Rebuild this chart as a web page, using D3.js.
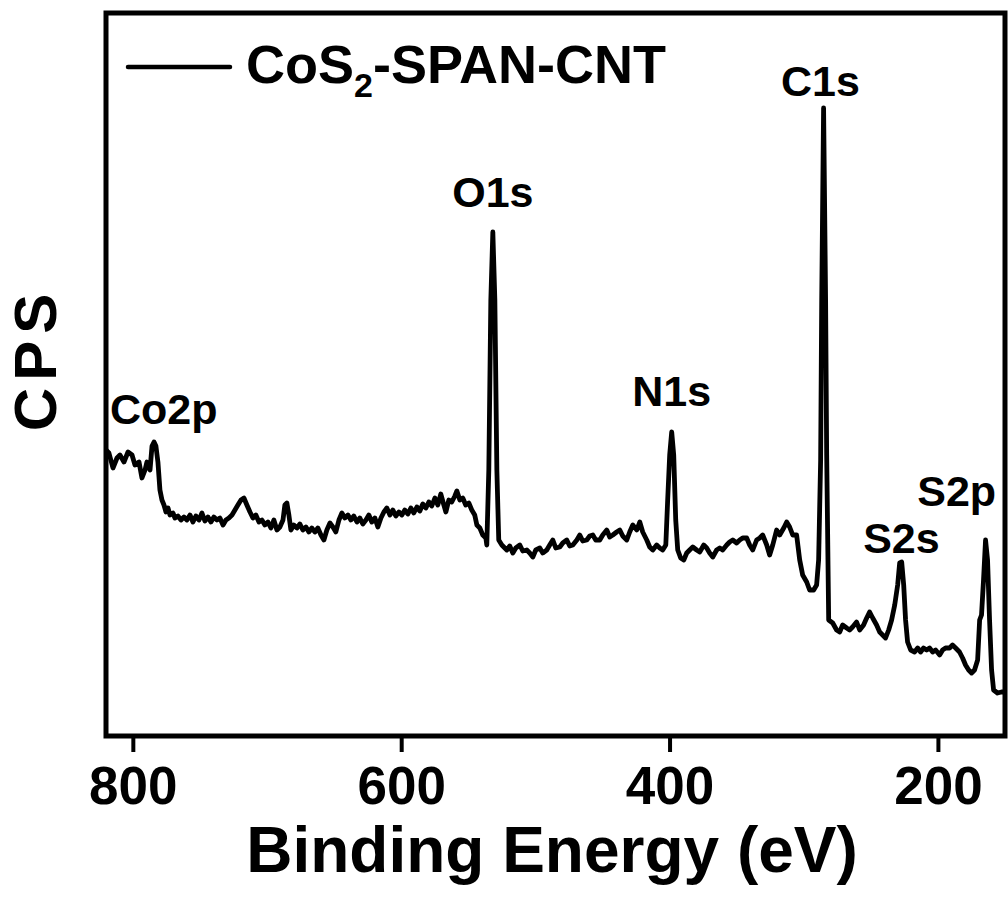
<!DOCTYPE html>
<html><head><meta charset="utf-8">
<script src="https://cdn.jsdelivr.net/npm/d3@7/dist/d3.min.js"></script>
<style>
html,body{margin:0;padding:0;background:#fff;}
text{font-family:"Liberation Sans",Arial,sans-serif;font-weight:bold;fill:#000;}
</style></head>
<body><svg id="c" width="1008" height="897"></svg>
<script>
// Binding energy (eV) and intensity (arbitrary CPS units)
const bindingEnergy = [820,817.8,814.8,811.8,809.6,806.6,803.6,800.6,798.4,795.4,793.2,790.9,789.5,787.2,785.7,784.2,782.8,781.3,779.8,778.3,776.8,775.3,773.8,772.3,770.1,768.6,766.4,764.1,761.9,759.7,757.4,755.2,753.0,750.7,748.5,746.3,744.0,741.8,739.6,737.3,735.1,732.8,730.6,728.4,726.1,723.9,721.7,719.4,717.2,715.0,712.7,710.5,708.3,706.0,703.8,701.6,699.3,697.1,694.9,692.6,690.4,688.1,686.7,685.2,683.7,682.2,680.0,677.7,675.5,673.3,671.0,668.8,666.6,664.3,662.1,659.8,657.6,655.4,653.1,650.9,648.7,646.4,644.2,642.0,639.7,637.5,635.3,633.0,630.8,628.6,626.3,624.1,621.9,619.6,617.4,615.1,612.9,610.7,608.4,606.2,604.0,601.7,599.5,597.3,595.0,592.8,590.6,588.3,586.1,583.9,581.6,579.4,577.2,574.9,572.7,570.5,568.2,566.7,564.5,562.3,560.0,558.5,556.3,554.1,551.9,549.6,547.4,545.2,543.6,541.4,539.2,536.9,536.2,534.7,533.2,531.7,530.2,528.7,527.3,525.0,522.8,521.3,519.1,516.8,514.6,511.6,509.4,506.4,504.2,501.9,499.7,496.7,494.5,491.5,489.3,487.0,484.8,481.8,479.6,476.6,474.4,472.1,469.1,466.9,464.7,461.7,459.5,457.2,455.0,452.0,449.8,446.8,444.6,442.3,439.4,437.1,434.9,431.9,429.7,427.4,424.4,422.2,420.0,417.0,414.8,412.5,409.6,407.3,405.1,402.8,401.4,399.9,398.4,396.9,395.4,393.9,391.7,389.4,387.2,385.0,382.7,379.8,377.5,374.5,372.3,370.1,367.8,364.9,362.6,360.4,357.4,355.2,352.9,350.0,347.7,345.5,342.5,340.3,338.0,335.1,332.8,330.6,327.6,325.4,323.1,320.2,317.9,314.9,312.7,310.5,308.2,305.3,303.0,300.8,297.8,295.6,292.6,290.4,288.9,287.4,286.6,285.2,283.7,282.9,281.4,278.4,275.5,273.2,271.0,268.0,265.8,263.6,260.6,258.3,255.4,253.1,250.9,248.6,245.7,243.4,241.2,239.0,236.7,234.5,232.2,230.0,228.5,227.0,225.5,224.1,222.6,220.3,217.4,215.1,212.9,210.7,208.4,206.2,203.9,201.7,198.7,196.5,194.3,191.3,189.1,186.8,183.9,181.6,179.4,177.1,174.9,172.7,170.4,168.9,167.5,166.0,164.5,163.0,161.5,160.0,158.5,155.6,152.6,149.6];
const cps = [286,283,268,278,281,274,284,281,271,274,258,266,274,266,290,294,290,274,246,236,231,224,228,221,223,218,220,216,219,216,221,214,220,216,223,215,219,214,219,216,218,211,216,218,221,226,231,236,238,231,224,218,221,214,216,211,214,208,216,206,209,216,231,233,221,206,211,208,212,206,209,204,208,204,208,201,196,206,213,209,204,216,223,218,221,216,220,214,218,212,216,221,214,218,209,218,224,228,221,226,220,224,221,226,222,228,223,229,225,232,228,234,230,238,231,242,231,224,236,234,240,245,236,238,231,233,226,221,211,208,201,198,191,266,436,504,436,266,196,191,188,186,190,183,188,191,185,186,183,179,186,188,183,186,191,196,188,189,193,196,190,191,196,201,195,196,200,201,196,196,201,206,199,201,204,206,200,196,204,211,206,214,204,196,189,186,191,188,186,191,236,281,304,281,216,186,178,176,183,186,189,186,184,191,188,183,179,186,188,186,191,194,196,193,196,198,198,191,186,196,198,201,191,181,191,206,201,208,214,209,201,201,176,161,154,146,146,151,176,276,436,628,436,281,116,113,106,104,111,108,106,109,114,106,111,118,124,118,111,104,101,98,106,116,131,151,173,174,151,116,94,86,84,88,84,88,86,88,84,86,81,86,88,88,91,88,84,78,71,66,63,66,76,116,121,156,196,176,116,66,46,43,44,44];
const xTicks = [800,600,400,200];
const peakLabels = ["Co2p","O1s","N1s","C1s","S2s","S2p"];
const peakLabelBE = [777,531.7,398.4,287.5,227.2,186];
const peakLabelCps = [312,529,330,640,183,230];
const seriesName = ["CoS","2","-SPAN-CNT"];

const svg = d3.select("#c");
const L=106,R=1005,T=13,B=736;
const x = d3.scaleLinear().domain([820,150]).range([L,R]);
const y = d3.scaleLinear().domain([0,723]).range([B,T]);

svg.append("defs").append("clipPath").attr("id","clip")
  .append("rect").attr("x",L).attr("y",T).attr("width",R-L).attr("height",B-T);

const data = bindingEnergy.map((e,i)=>({e, v:cps[i]}));
svg.append("path").datum(data)
  .attr("clip-path","url(#clip)")
  .attr("fill","none").attr("stroke","#000").attr("stroke-width",4.8)
  .attr("stroke-linejoin","round")
  .attr("d", d3.line().x(d=>x(d.e)).y(d=>y(d.v)));

// frame
svg.append("rect").attr("x",L).attr("y",T).attr("width",R-L).attr("height",B-T)
  .attr("fill","none").attr("stroke","#000").attr("stroke-width",5);

// x axis
const ax = svg.append("g").attr("transform",`translate(0,${B+2})`)
  .call(d3.axisBottom(x).tickValues(xTicks).tickSize(14).tickSizeOuter(0).tickFormat(d3.format("d")));
ax.select(".domain").remove();
ax.selectAll(".tick line").attr("stroke","#000").attr("stroke-width",4);
ax.selectAll(".tick text").attr("y",66).attr("dy",0)
  .style("font-size","53px").style("font-family","'Liberation Sans',Arial,sans-serif").style("font-weight","bold").attr("fill","#000");

svg.append("text").attr("x",552).attr("y",872).attr("text-anchor","middle")
  .style("font-size","64px").text("Binding Energy (eV)");

svg.append("text").attr("transform","translate(56,359) rotate(-90)").attr("text-anchor","middle")
  .style("font-size","60px").style("letter-spacing","7px").text("CPS");

// peak labels
peakLabels.forEach((t,i)=>{
  svg.append("text").attr("x",x(peakLabelBE[i])).attr("y",y(peakLabelCps[i]))
    .attr("text-anchor","middle").style("font-size","43px").text(t);
});

// legend
svg.append("line").attr("x1",128).attr("x2",230).attr("y1",67).attr("y2",67)
  .attr("stroke","#000").attr("stroke-width",4.5).attr("stroke-linecap","round");
const lt = svg.append("text").attr("x",246).attr("y",83).style("font-size","54px");
lt.append("tspan").text(seriesName[0]);
lt.append("tspan").attr("dy",14).style("font-size","34px").text(seriesName[1]);
lt.append("tspan").attr("dy",-14).text(seriesName[2]);
</script></body></html>
